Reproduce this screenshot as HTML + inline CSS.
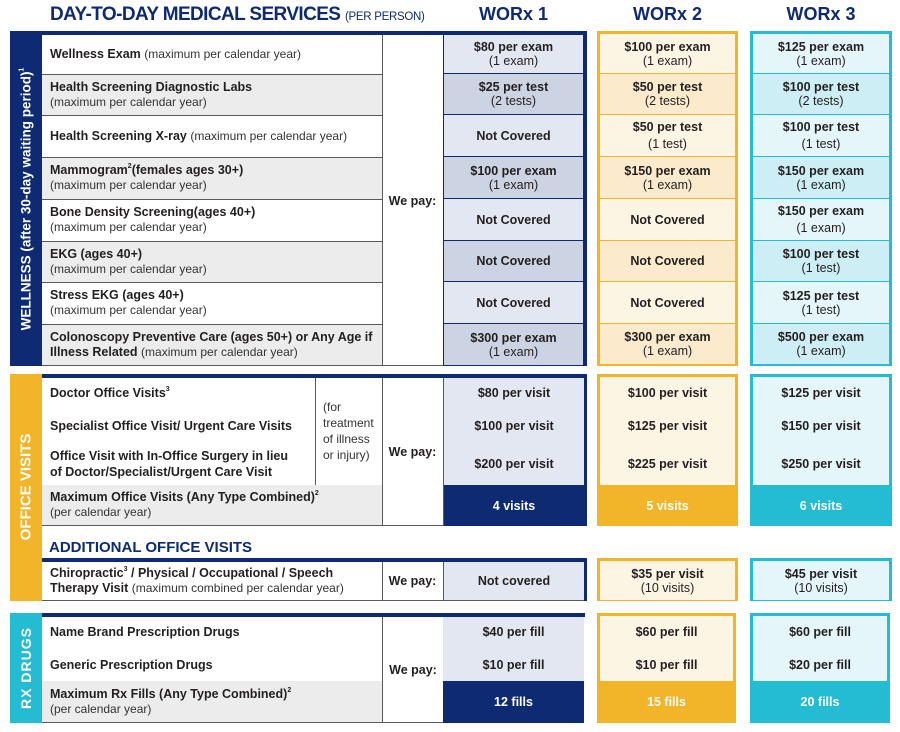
<!DOCTYPE html>
<html><head><meta charset="utf-8"><style>
*{margin:0;padding:0;box-sizing:border-box}
body{width:900px;height:732px;background:#fff;position:relative;overflow:hidden;font-family:"Liberation Sans",Arial,sans-serif;color:#231f20}
.a{position:absolute}
.c{position:absolute;display:flex;align-items:center;justify-content:center;text-align:center;flex-direction:column;font-size:12.5px;line-height:14px}
.d{position:absolute;display:flex;align-items:center;padding-left:8px;font-size:12.5px;line-height:15px;border-bottom:1px solid #58595b;border-right:1px solid #58595b}
.ln{position:absolute;left:42px;width:341px;height:1px;background:#58595b}
b{font-weight:bold}
.n{font-weight:normal;font-size:12px;color:#333}
.h{position:absolute;top:4px;font-weight:bold;font-size:18px;color:#0d2a73;text-align:center}
.v{position:absolute;color:#fff;font-weight:bold;white-space:nowrap;transform:translate(-50%,-50%) rotate(-90deg)}
sup{font-size:7px;vertical-align:top;line-height:8px}
</style></head><body>
<div class="a" style="left:50px;top:4px;font-size:19px;font-weight:bold;color:#0d2a73;letter-spacing:-0.6px">DAY-TO-DAY MEDICAL SERVICES <span style="font-size:11.5px;font-weight:normal;letter-spacing:-0.3px">(PER PERSON)</span></div>
<div class="h" style="left:443px;width:141px">WORx 1</div>
<div class="h" style="left:597px;width:141px">WORx 2</div>
<div class="h" style="left:750px;width:142px">WORx 3</div>

<!-- WELLNESS -->
<div class="a" style="left:10px;top:31px;width:32px;height:335px;background:#0d2a73"></div>
<div class="v" style="left:26px;top:199px;font-size:13.5px">WELLNESS (after 30-day waiting period)<sup>1</sup></div>
<div class="a" style="left:42px;top:31px;width:545px;height:4px;background:#0d2a73"></div>
<div class="a" style="left:583px;top:31px;width:4px;height:335px;background:#0d2a73"></div>
<div class="a" style="left:382px;top:35px;width:61px;height:331px;border-bottom:1px solid #58595b"></div>
<div class="c" style="left:382px;top:35px;width:61px;height:331px"><b>We pay:</b></div>

<div class="d" style="left:42px;top:35px;width:341px;height:40px;background:#fff"><div><b>Wellness Exam</b> <span class="n">(maximum per calendar year)</span></div></div>
<div class="d" style="left:42px;top:74px;width:341px;height:42px;background:#ebeceb"><div><b>Health Screening Diagnostic Labs</b><br><span class="n">(maximum per calendar year)</span></div></div>
<div class="d" style="left:42px;top:115px;width:341px;height:43px;background:#fff"><div><b>Health Screening X-ray</b> <span class="n">(maximum per calendar year)</span></div></div>
<div class="d" style="left:42px;top:157px;width:341px;height:43px;background:#ebeceb"><div><b>Mammogram<sup>2</sup>(females ages 30+)</b><br><span class="n">(maximum per calendar year)</span></div></div>
<div class="d" style="left:42px;top:199px;width:341px;height:43px;background:#fff"><div><b>Bone Density Screening(ages 40+)</b><br><span class="n">(maximum per calendar year)</span></div></div>
<div class="d" style="left:42px;top:241px;width:341px;height:42px;background:#ebeceb"><div><b>EKG (ages 40+)</b><br><span class="n">(maximum per calendar year)</span></div></div>
<div class="d" style="left:42px;top:282px;width:341px;height:43px;background:#fff"><div><b>Stress EKG (ages 40+)</b><br><span class="n">(maximum per calendar year)</span></div></div>
<div class="d" style="left:42px;top:324px;width:341px;height:42px;background:#ebeceb"><div><b>Colonoscopy Preventive Care (ages 50+) or Any Age if Illness Related</b> <span class="n">(maximum per calendar year)</span></div></div>
<div class="ln" style="top:74px"></div><div class="ln" style="top:115px"></div><div class="ln" style="top:157px"></div><div class="ln" style="top:199px"></div><div class="ln" style="top:241px"></div><div class="ln" style="top:282px"></div><div class="ln" style="top:324px"></div>

<!-- WORx1 wellness -->
<div class="a" style="left:443px;top:35px;width:140px;height:331px;border-left:1px solid #0d2a73"></div>
<div class="c" style="left:444px;top:35px;width:139px;height:39px;background:#e3e7f1;border-bottom:1px solid #0d2a73"><b>$80 per exam</b><span>(1 exam)</span></div>
<div class="c" style="left:444px;top:74px;width:139px;height:41px;background:#ccd3e3;border-bottom:1px solid #0d2a73"><b>$25 per test</b><span>(2 tests)</span></div>
<div class="c" style="left:444px;top:115px;width:139px;height:42px;background:#e3e7f1;border-bottom:1px solid #0d2a73"><b>Not Covered</b></div>
<div class="c" style="left:444px;top:157px;width:139px;height:42px;background:#ccd3e3;border-bottom:1px solid #0d2a73"><b>$100 per exam</b><span>(1 exam)</span></div>
<div class="c" style="left:444px;top:199px;width:139px;height:42px;background:#e3e7f1;border-bottom:1px solid #0d2a73"><b>Not Covered</b></div>
<div class="c" style="left:444px;top:241px;width:139px;height:41px;background:#ccd3e3;border-bottom:1px solid #0d2a73"><b>Not Covered</b></div>
<div class="c" style="left:444px;top:282px;width:139px;height:42px;background:#e3e7f1;border-bottom:1px solid #0d2a73"><b>Not Covered</b></div>
<div class="c" style="left:444px;top:324px;width:139px;height:42px;background:#ccd3e3;border-bottom:1px solid #0d2a73"><b>$300 per exam</b><span>(1 exam)</span></div>

<!-- WORx2 wellness -->
<div class="a" style="left:597px;top:31px;width:141px;height:335px;border:3px solid #f2b52a;border-bottom:none"></div>
<div class="c" style="left:600px;top:34px;width:135px;height:40px;background:#fdf5e4;border-bottom:1px solid #f2b52a"><b>$100 per exam</b><span>(1 exam)</span></div>
<div class="c" style="left:600px;top:74px;width:135px;height:41px;background:#fbeacb;border-bottom:1px solid #f2b52a"><b>$50 per test</b><span>(2 tests)</span></div>
<div class="c" style="left:600px;top:115px;width:135px;height:42px;background:#fdf5e4;border-bottom:1px solid #f2b52a"><b>$50 per test</b><span style="margin-top:3px">(1 test)</span></div>
<div class="c" style="left:600px;top:157px;width:135px;height:42px;background:#fbeacb;border-bottom:1px solid #f2b52a"><b>$150 per exam</b><span>(1 exam)</span></div>
<div class="c" style="left:600px;top:199px;width:135px;height:42px;background:#fdf5e4;border-bottom:1px solid #f2b52a"><b>Not Covered</b></div>
<div class="c" style="left:600px;top:241px;width:135px;height:41px;background:#fbeacb;border-bottom:1px solid #f2b52a"><b>Not Covered</b></div>
<div class="c" style="left:600px;top:282px;width:135px;height:42px;background:#fdf5e4;border-bottom:1px solid #f2b52a"><b>Not Covered</b></div>
<div class="c" style="left:600px;top:324px;width:135px;height:42px;background:#fbeacb;border-bottom:2px solid #f2b52a"><b>$300 per exam</b><span>(1 exam)</span></div>

<!-- WORx3 wellness -->
<div class="a" style="left:750px;top:31px;width:142px;height:335px;border:3px solid #23bcd3;border-bottom:none"></div>
<div class="c" style="left:753px;top:34px;width:136px;height:40px;background:#e4f6fa;border-bottom:1px solid #23bcd3"><b>$125 per exam</b><span>(1 exam)</span></div>
<div class="c" style="left:753px;top:74px;width:136px;height:41px;background:#cdeef4;border-bottom:1px solid #23bcd3"><b>$100 per test</b><span>(2 tests)</span></div>
<div class="c" style="left:753px;top:115px;width:136px;height:42px;background:#e4f6fa;border-bottom:1px solid #23bcd3"><b>$100 per test</b><span style="margin-top:3px">(1 test)</span></div>
<div class="c" style="left:753px;top:157px;width:136px;height:42px;background:#cdeef4;border-bottom:1px solid #23bcd3"><b>$150 per exam</b><span>(1 exam)</span></div>
<div class="c" style="left:753px;top:199px;width:136px;height:42px;background:#e4f6fa;border-bottom:1px solid #23bcd3"><b>$150 per exam</b><span style="margin-top:3px">(1 exam)</span></div>
<div class="c" style="left:753px;top:241px;width:136px;height:41px;background:#cdeef4;border-bottom:1px solid #23bcd3"><b>$100 per test</b><span>(1 test)</span></div>
<div class="c" style="left:753px;top:282px;width:136px;height:42px;background:#e4f6fa;border-bottom:1px solid #23bcd3"><b>$125 per test</b><span>(1 test)</span></div>
<div class="c" style="left:753px;top:324px;width:136px;height:42px;background:#cdeef4;border-bottom:2px solid #23bcd3"><b>$500 per exam</b><span>(1 exam)</span></div>

<!-- OFFICE VISITS -->
<div class="a" style="left:10px;top:374px;width:32px;height:227px;background:#f2b52a"></div>
<div class="v" style="left:26px;top:487px;font-size:15px">OFFICE VISITS</div>
<div class="a" style="left:42px;top:374px;width:545px;height:4px;background:#0d2a73"></div>
<div class="a" style="left:584px;top:374px;width:3px;height:152px;background:#0d2a73"></div>
<div class="a" style="left:42px;top:378px;width:274px;height:107px;background:#fff;border-right:1px solid #58595b"></div>
<div class="a" style="left:50px;top:386px;font-size:12.5px;font-weight:bold">Doctor Office Visits<sup>3</sup></div>
<div class="a" style="left:50px;top:419px;font-size:12.5px;font-weight:bold">Specialist Office Visit/ Urgent Care Visits</div>
<div class="a" style="left:50px;top:449px;font-size:12.5px;font-weight:bold;line-height:15.5px">Office Visit with In-Office Surgery in lieu<br>of Doctor/Specialist/Urgent Care Visit</div>
<div class="a" style="left:323px;top:399px;font-size:12px;line-height:16px;color:#333">(for<br>treatment<br>of illness<br>or injury)</div>
<div class="d" style="left:42px;top:485px;width:341px;height:41px;background:#ebeceb;border-right:none"><div><b>Maximum Office Visits (Any Type Combined)<sup>2</sup></b><br><span class="n">(per calendar year)</span></div></div>
<div class="a" style="left:382px;top:378px;width:62px;height:148px;border-left:1px solid #58595b;border-right:1px solid #58595b;border-bottom:1px solid #58595b"></div>
<div class="c" style="left:382px;top:378px;width:61px;height:148px"><b>We pay:</b></div>
<div class="a" style="left:444px;top:378px;width:140px;height:107px;background:#e3e7f1"></div>
<div class="c" style="left:444px;top:385px;width:140px;height:16px"><b>$80 per visit</b></div>
<div class="c" style="left:444px;top:418px;width:140px;height:16px"><b>$100 per visit</b></div>
<div class="c" style="left:444px;top:456px;width:140px;height:16px"><b>$200 per visit</b></div>
<div class="c" style="left:444px;top:485px;width:140px;height:41px;background:#0d2a73;color:#fff"><b>4 visits</b></div>

<div class="a" style="left:597px;top:374px;width:141px;height:152px;border:3px solid #f2b52a;background:#fdf5e4"></div>
<div class="c" style="left:597px;top:385px;width:141px;height:16px"><b>$100 per visit</b></div>
<div class="c" style="left:597px;top:418px;width:141px;height:16px"><b>$125 per visit</b></div>
<div class="c" style="left:597px;top:456px;width:141px;height:16px"><b>$225 per visit</b></div>
<div class="c" style="left:597px;top:485px;width:141px;height:41px;background:#f2b52a;color:#fff"><b>5 visits</b></div>

<div class="a" style="left:750px;top:374px;width:142px;height:152px;border:3px solid #23bcd3;background:#e4f6fa"></div>
<div class="c" style="left:750px;top:385px;width:142px;height:16px"><b>$125 per visit</b></div>
<div class="c" style="left:750px;top:418px;width:142px;height:16px"><b>$150 per visit</b></div>
<div class="c" style="left:750px;top:456px;width:142px;height:16px"><b>$250 per visit</b></div>
<div class="c" style="left:750px;top:485px;width:142px;height:41px;background:#23bcd3;color:#fff"><b>6 visits</b></div>

<div class="a" style="left:49px;top:539px;font-size:15px;font-weight:bold;color:#0d2a73">ADDITIONAL OFFICE VISITS</div>
<div class="a" style="left:42px;top:558px;width:545px;height:4px;background:#0d2a73"></div>
<div class="a" style="left:584px;top:558px;width:3px;height:43px;background:#0d2a73"></div>
<div class="d" style="left:42px;top:562px;width:341px;height:39px;background:#fff"><div><b>Chiropractic<sup>3</sup> / Physical / Occupational / Speech Therapy Visit</b> <span class="n">(maximum combined per calendar year)</span></div></div>
<div class="c" style="left:382px;top:562px;width:62px;height:39px;border-bottom:1px solid #58595b;border-right:1px solid #58595b"><b>We pay:</b></div>
<div class="c" style="left:444px;top:562px;width:140px;height:39px;background:#e3e7f1;border-bottom:1px solid #58595b"><b>Not covered</b></div>
<div class="c" style="left:597px;top:558px;width:141px;height:43px;border:3px solid #f2b52a;border-bottom:1px solid #f2b52a;background:#fdf5e4"><b>$35 per visit</b><span>(10 visits)</span></div>
<div class="c" style="left:750px;top:558px;width:142px;height:43px;border:3px solid #23bcd3;border-bottom:1px solid #23bcd3;background:#e4f6fa"><b>$45 per visit</b><span>(10 visits)</span></div>

<!-- RX -->
<div class="a" style="left:10px;top:613px;width:32px;height:110px;background:#23bcd3"></div>
<div class="v" style="left:26px;top:668px;font-size:14px;letter-spacing:1px">RX DRUGS</div>
<div class="a" style="left:42px;top:613px;width:543px;height:4px;background:#0d2a73"></div>
<div class="a" style="left:42px;top:617px;width:340px;height:64px;background:#fff"></div>
<div class="a" style="left:50px;top:625px;font-size:12.5px;font-weight:bold">Name Brand Prescription Drugs</div>
<div class="a" style="left:50px;top:658px;font-size:12.5px;font-weight:bold">Generic Prescription Drugs</div>
<div class="d" style="left:42px;top:681px;width:340px;height:42px;background:#ebeceb;border-right:none"><div><b>Maximum Rx Fills (Any Type Combined)<sup>2</sup></b><br><span class="n">(per calendar year)</span></div></div>
<div class="c" style="left:382px;top:617px;width:61px;height:106px;border-left:1px solid #58595b;border-bottom:1px solid #58595b"><b>We pay:</b></div>
<div class="a" style="left:443px;top:617px;width:141px;height:64px;background:#e3e7f1"></div>
<div class="c" style="left:443px;top:624px;width:141px;height:16px"><b>$40 per fill</b></div>
<div class="c" style="left:443px;top:657px;width:141px;height:16px"><b>$10 per fill</b></div>
<div class="c" style="left:443px;top:681px;width:141px;height:42px;background:#0d2a73;color:#fff"><b>12 fills</b></div>
<div class="a" style="left:597px;top:613px;width:139px;height:110px;border:3px solid #f2b52a;background:#fdf5e4"></div>
<div class="c" style="left:597px;top:624px;width:139px;height:16px"><b>$60 per fill</b></div>
<div class="c" style="left:597px;top:657px;width:139px;height:16px"><b>$10 per fill</b></div>
<div class="c" style="left:597px;top:681px;width:139px;height:42px;background:#f2b52a;color:#fff"><b>15 fills</b></div>
<div class="a" style="left:750px;top:613px;width:140px;height:110px;border:3px solid #23bcd3;background:#e4f6fa"></div>
<div class="c" style="left:750px;top:624px;width:140px;height:16px"><b>$60 per fill</b></div>
<div class="c" style="left:750px;top:657px;width:140px;height:16px"><b>$20 per fill</b></div>
<div class="c" style="left:750px;top:681px;width:140px;height:42px;background:#23bcd3;color:#fff"><b>20 fills</b></div>
</body></html>
